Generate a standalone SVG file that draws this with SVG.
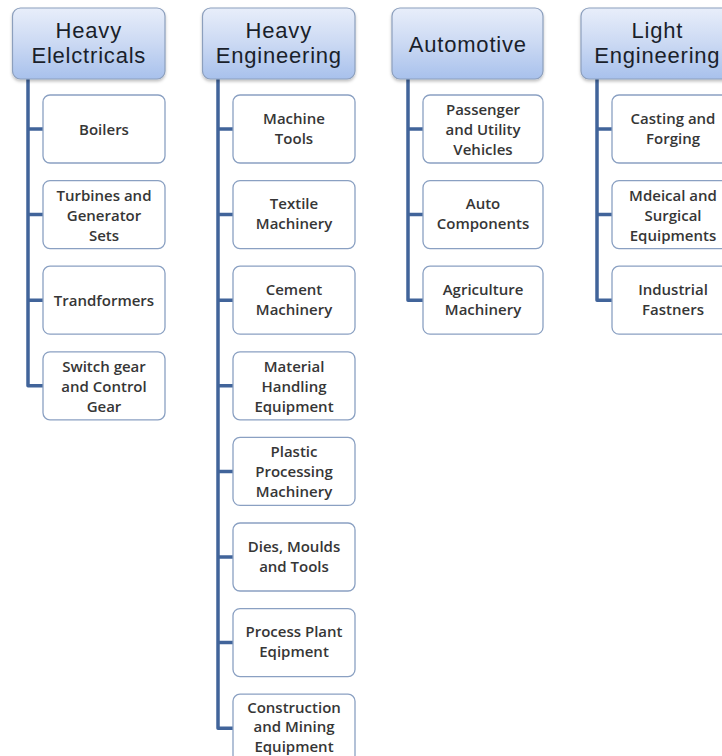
<svg xmlns="http://www.w3.org/2000/svg" width="722" height="756" viewBox="0 0 722 756">
<defs>
<linearGradient id="hg" x1="0" y1="0" x2="0" y2="1">
<stop offset="0" stop-color="#e8eefa"/>
<stop offset="0.5" stop-color="#cbd9f3"/>
<stop offset="1" stop-color="#a8c1ec"/>
</linearGradient>
<filter id="sh" x="-10%" y="-10%" width="120%" height="130%">
<feDropShadow dx="0" dy="2" stdDeviation="1.5" flood-color="#000" flood-opacity="0.25"/>
</filter>
</defs>
<style>
.hdr rect{fill:url(#hg);stroke:#8c9fbd;stroke-width:1.2;filter:url(#sh)}
.hdr text{font-family:"Liberation Sans",Arial,sans-serif;font-size:22px;letter-spacing:0.8px;fill:#1a1f2b;text-anchor:middle}
.ch rect{fill:#fff;stroke:#8aa0c2;stroke-width:1.3}
.ch text{font-family:"Open Sans","Noto Sans",sans-serif;font-size:15px;font-weight:600;fill:#363636;text-anchor:middle}
.con path{fill:none;stroke:#41649a;stroke-width:3.5;stroke-linejoin:round}
</style>
<rect width="722" height="756" fill="#fff"/>
<g class="con" id="connectors">
<path d="M28 79V385.8H43M28 129H43M28 214.6H43M28 300.2H43"/>
<path d="M218 79V728.2H233M218 129H233M218 214.6H233M218 300.2H233M218 385.8H233M218 471.4H233M218 557H233M218 642.6H233"/>
<path d="M408 79V300.2H423M408 129H423M408 214.6H423"/>
<path d="M597 79V300.2H612M597 129H612M597 214.6H612"/>
</g>
<g class="hdr" id="heavy-electricals"><rect x="12.5" y="8" width="152.5" height="71" rx="8"/><text x="88.8" y="38">Heavy</text><text x="88.8" y="63">Elelctricals</text></g>
<g class="hdr" id="heavy-engineering"><rect x="202.5" y="8" width="152.5" height="71" rx="8"/><text x="278.8" y="38">Heavy</text><text x="278.8" y="63">Engineering</text></g>
<g class="hdr" id="automotive"><rect x="392" y="8" width="151" height="71" rx="8"/><text x="467.8" y="51.5">Automotive</text></g>
<g class="hdr" id="light-engineering"><rect x="581" y="8" width="153" height="71" rx="8"/><text x="657.3" y="38">Light</text><text x="657.3" y="63">Engineering</text></g>

<g class="ch" id="boilers"><rect x="43" y="95" width="122" height="68" rx="7"/><text x="104" y="134.5">Boilers</text></g>
<g class="ch" id="turbines"><rect x="43" y="180.6" width="122" height="68" rx="7"/><text x="104" y="200.6">Turbines and<tspan x="104" dy="20">Generator</tspan><tspan x="104" dy="20">Sets</tspan></text></g>
<g class="ch" id="transformers"><rect x="43" y="266.2" width="122" height="68" rx="7"/><text x="104" y="305.7">Trandformers</text></g>
<g class="ch" id="switchgear"><rect x="43" y="351.8" width="122" height="68" rx="7"/><text x="104" y="371.8">Switch gear<tspan x="104" dy="20">and Control</tspan><tspan x="104" dy="20">Gear</tspan></text></g>

<g class="ch" id="machine-tools"><rect x="233" y="95" width="122" height="68" rx="7"/><text x="294" y="123.5">Machine<tspan x="294" dy="20">Tools</tspan></text></g>
<g class="ch" id="textile"><rect x="233" y="180.6" width="122" height="68" rx="7"/><text x="294" y="209.1">Textile<tspan x="294" dy="20">Machinery</tspan></text></g>
<g class="ch" id="cement"><rect x="233" y="266.2" width="122" height="68" rx="7"/><text x="294" y="294.7">Cement<tspan x="294" dy="20">Machinery</tspan></text></g>
<g class="ch" id="material"><rect x="233" y="351.8" width="122" height="68" rx="7"/><text x="294" y="371.8">Material<tspan x="294" dy="20">Handling</tspan><tspan x="294" dy="20">Equipment</tspan></text></g>
<g class="ch" id="plastic"><rect x="233" y="437.4" width="122" height="68" rx="7"/><text x="294" y="457.4">Plastic<tspan x="294" dy="20">Processing</tspan><tspan x="294" dy="20">Machinery</tspan></text></g>
<g class="ch" id="dies"><rect x="233" y="523" width="122" height="68" rx="7"/><text x="294" y="551.5">Dies, Moulds<tspan x="294" dy="20">and Tools</tspan></text></g>
<g class="ch" id="process-plant"><rect x="233" y="608.6" width="122" height="68" rx="7"/><text x="294" y="637.1">Process Plant<tspan x="294" dy="20">Eqipment</tspan></text></g>
<g class="ch" id="construction"><rect x="233" y="694.2" width="122" height="68" rx="7"/><text x="294" y="712.5">Construction<tspan x="294" dy="19.5">and Mining</tspan><tspan x="294" dy="19.5">Equipment</tspan></text></g>

<g class="ch" id="passenger"><rect x="423" y="95" width="120" height="68" rx="7"/><text x="483" y="115">Passenger<tspan x="483" dy="20">and Utility</tspan><tspan x="483" dy="20">Vehicles</tspan></text></g>
<g class="ch" id="auto-components"><rect x="423" y="180.6" width="120" height="68" rx="7"/><text x="483" y="209.1">Auto<tspan x="483" dy="20">Components</tspan></text></g>
<g class="ch" id="agriculture"><rect x="423" y="266.2" width="120" height="68" rx="7"/><text x="483" y="294.7">Agriculture<tspan x="483" dy="20">Machinery</tspan></text></g>

<g class="ch" id="casting"><rect x="612" y="95" width="122" height="68" rx="7"/><text x="673" y="123.5">Casting and<tspan x="673" dy="20">Forging</tspan></text></g>
<g class="ch" id="medical"><rect x="612" y="180.6" width="122" height="68" rx="7"/><text x="673" y="200.6">Mdeical and<tspan x="673" dy="20">Surgical</tspan><tspan x="673" dy="20">Equipments</tspan></text></g>
<g class="ch" id="fasteners"><rect x="612" y="266.2" width="122" height="68" rx="7"/><text x="673" y="294.7">Industrial<tspan x="673" dy="20">Fastners</tspan></text></g>
</svg>
